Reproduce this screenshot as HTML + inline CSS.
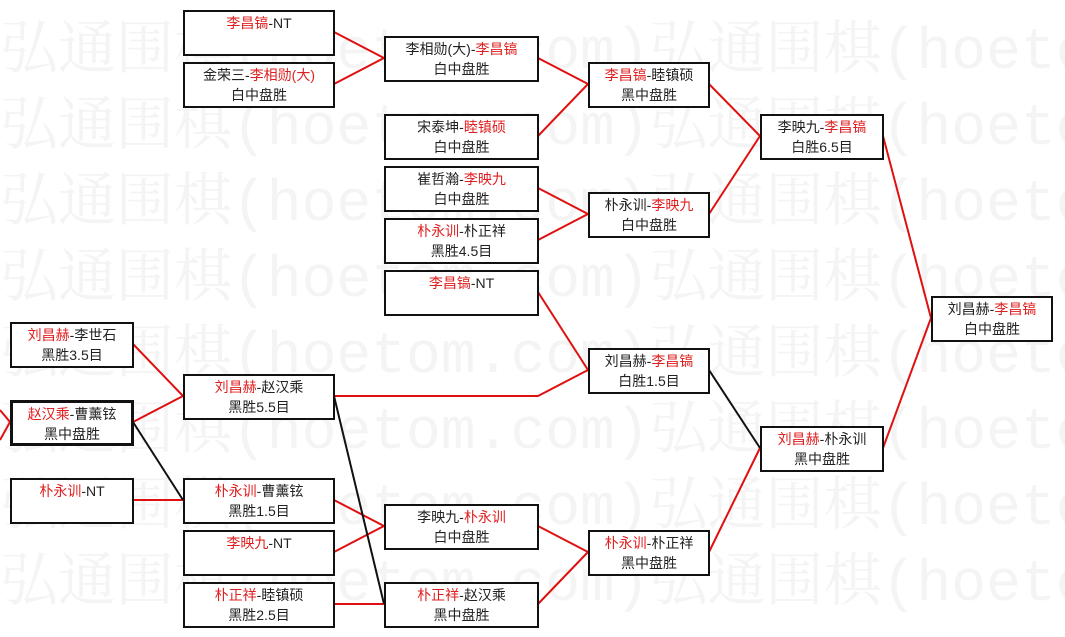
<!DOCTYPE html>
<html><head><meta charset="utf-8"><style>
body{margin:0;width:1065px;height:637px;background:#fff;position:relative;overflow:hidden;font-family:"Liberation Sans","Noto Sans CJK SC",sans-serif;}
.wm{position:absolute;left:0;font-family:"Liberation Mono","Noto Serif CJK SC",serif;font-size:58px;line-height:76px;color:#f4f4f4;white-space:nowrap}
.b{position:absolute;box-sizing:border-box;border:2px solid #111;background:#fff;text-align:center;font-size:14px;line-height:20px;padding-top:1px;color:#222}
.r{color:#e02020}
svg{position:absolute;left:0;top:0}
</style></head><body>
<div class="wm" style="top:16px">弘通围棋(hoetom.com)弘通围棋(hoetom.com)<br>弘通围棋(hoetom.com)弘通围棋(hoetom.com)<br>弘通围棋(hoetom.com)弘通围棋(hoetom.com)<br>弘通围棋(hoetom.com)弘通围棋(hoetom.com)<br>弘通围棋(hoetom.com)弘通围棋(hoetom.com)<br>弘通围棋(hoetom.com)弘通围棋(hoetom.com)<br>弘通围棋(hoetom.com)弘通围棋(hoetom.com)<br>弘通围棋(hoetom.com)弘通围棋(hoetom.com)</div>
<svg width="1065" height="637" fill="none" stroke-width="2">
<g stroke="#e01010">
<polyline points="0,410 10,422 0,440"/>
<line x1="133" y1="344" x2="183" y2="396"/><line x1="133" y1="422" x2="183" y2="396"/>
<line x1="133" y1="500" x2="183" y2="500"/>
<line x1="334" y1="32" x2="384" y2="58"/><line x1="334" y1="84" x2="384" y2="58"/>
<polyline points="334,396 538,396 588,370"/>
<line x1="334" y1="500" x2="384" y2="526"/><line x1="334" y1="552" x2="384" y2="526"/>
<line x1="334" y1="604" x2="384" y2="604"/>
<line x1="538" y1="58" x2="588" y2="84"/><line x1="538" y1="136" x2="588" y2="84"/>
<line x1="538" y1="188" x2="588" y2="214"/><line x1="538" y1="240" x2="588" y2="214"/>
<line x1="538" y1="292" x2="588" y2="370"/>
<line x1="538" y1="526" x2="588" y2="552"/><line x1="538" y1="604" x2="588" y2="552"/>
<line x1="709" y1="84" x2="760" y2="136"/><line x1="709" y1="214" x2="760" y2="136"/>
<line x1="709" y1="552" x2="760" y2="448"/>
<line x1="883" y1="136" x2="931" y2="318"/><line x1="883" y1="448" x2="931" y2="318"/>
</g>
<g stroke="#111">
<line x1="133" y1="422" x2="183" y2="500"/>
<line x1="334" y1="396" x2="384" y2="604"/>
<line x1="709" y1="370" x2="760" y2="448"/>
</g>
</svg>
<div class="b" style="left:10px;top:322px;width:124px;height:46px"><span class="r">刘昌赫</span>-李世石<br>黑胜3.5目</div>
<div class="b" style="left:10px;top:400px;width:124px;height:46px;border-width:3px"><span class="r">赵汉乘</span>-曹薰铉<br>黑中盘胜</div>
<div class="b" style="left:10px;top:478px;width:124px;height:46px"><span class="r">朴永训</span>-NT</div>
<div class="b" style="left:183px;top:10px;width:152px;height:46px"><span class="r">李昌镐</span>-NT</div>
<div class="b" style="left:183px;top:62px;width:152px;height:46px">金荣三-<span class="r">李相勋(大)</span><br>白中盘胜</div>
<div class="b" style="left:183px;top:374px;width:152px;height:46px"><span class="r">刘昌赫</span>-赵汉乘<br>黑胜5.5目</div>
<div class="b" style="left:183px;top:478px;width:152px;height:46px"><span class="r">朴永训</span>-曹薰铉<br>黑胜1.5目</div>
<div class="b" style="left:183px;top:530px;width:152px;height:46px"><span class="r">李映九</span>-NT</div>
<div class="b" style="left:183px;top:582px;width:152px;height:46px"><span class="r">朴正祥</span>-睦镇硕<br>黑胜2.5目</div>
<div class="b" style="left:384px;top:36px;width:155px;height:46px">李相勋(大)-<span class="r">李昌镐</span><br>白中盘胜</div>
<div class="b" style="left:384px;top:114px;width:155px;height:46px">宋泰坤-<span class="r">睦镇硕</span><br>白中盘胜</div>
<div class="b" style="left:384px;top:166px;width:155px;height:46px">崔哲瀚-<span class="r">李映九</span><br>白中盘胜</div>
<div class="b" style="left:384px;top:218px;width:155px;height:46px"><span class="r">朴永训</span>-朴正祥<br>黑胜4.5目</div>
<div class="b" style="left:384px;top:270px;width:155px;height:46px"><span class="r">李昌镐</span>-NT</div>
<div class="b" style="left:384px;top:504px;width:155px;height:46px">李映九-<span class="r">朴永训</span><br>白中盘胜</div>
<div class="b" style="left:384px;top:582px;width:155px;height:46px"><span class="r">朴正祥</span>-赵汉乘<br>黑中盘胜</div>
<div class="b" style="left:588px;top:62px;width:122px;height:46px"><span class="r">李昌镐</span>-睦镇硕<br>黑中盘胜</div>
<div class="b" style="left:588px;top:192px;width:122px;height:46px">朴永训-<span class="r">李映九</span><br>白中盘胜</div>
<div class="b" style="left:588px;top:348px;width:122px;height:46px">刘昌赫-<span class="r">李昌镐</span><br>白胜1.5目</div>
<div class="b" style="left:588px;top:530px;width:122px;height:46px"><span class="r">朴永训</span>-朴正祥<br>黑中盘胜</div>
<div class="b" style="left:760px;top:114px;width:124px;height:46px">李映九-<span class="r">李昌镐</span><br>白胜6.5目</div>
<div class="b" style="left:760px;top:426px;width:124px;height:46px"><span class="r">刘昌赫</span>-朴永训<br>黑中盘胜</div>
<div class="b" style="left:931px;top:296px;width:122px;height:46px">刘昌赫-<span class="r">李昌镐</span><br>白中盘胜</div>
</body></html>
